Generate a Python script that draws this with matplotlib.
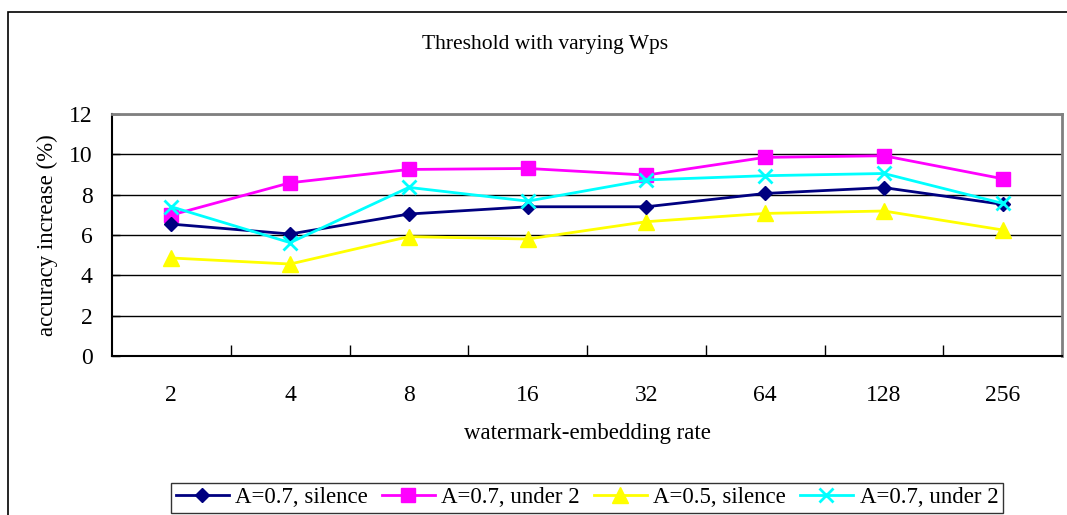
import matplotlib
matplotlib.use("Agg")
import matplotlib.pyplot as plt
from matplotlib.patches import Rectangle

categories = ["2", "4", "8", "16", "32", "64", "128", "256"]
s1_name = "A=0.7, silence"
s1 = [6.54, 6.05, 7.04, 7.40, 7.40, 8.06, 8.35, 7.52]
s2_name = "A=0.7, under 2"
s2 = [6.99, 8.59, 9.25, 9.30, 8.97, 9.85, 9.93, 8.79]
s3_name = "A=0.5, silence"
s3 = [4.86, 4.56, 5.92, 5.80, 6.66, 7.07, 7.19, 6.25]
s4_name = "A=0.7, under 2"
s4 = [7.40, 5.62, 8.36, 7.68, 8.73, 8.94, 9.05, 7.57]
yticks = [0, 2, 4, 6, 8, 10, 12]

plt.rcParams['font.family'] = ['Liberation Serif', 'DejaVu Serif']

W, H = 1067, 515
fig = plt.figure(figsize=(W/100, H/100), dpi=100)
fig.patch.set_facecolor('white')

# outer chart border
fig.patches.append(Rectangle((8/W, -0.1), 1.2, (H-12)/H + 0.1, transform=fig.transFigure,
                             fill=False, edgecolor='black', linewidth=1.2, zorder=0))

ax = fig.add_axes([112/W, (H-356)/H, (1062-112)/W, (356-114)/H])
x = list(range(len(categories)))

ax.plot(x, s1, color='#000080', marker='D', ms=7.5, lw=2, label=s1_name, zorder=5)
ax.plot(x, s2, color='#FF00FF', marker='s', ms=10.5, lw=2, label=s2_name, zorder=4)
ax.plot(x, s3, color='#FFFF00', marker='^', ms=11.5, lw=2, label=s3_name, zorder=3)
ax.plot(x, s4, color='#00FFFF', marker='x', ms=10.5, mew=2, lw=2, label=s4_name, zorder=6)

ax.set_xlim(-0.5, len(categories) - 0.5)
ax.set_ylim(0, 12)
ax.set_yticks(yticks)
ax.set_yticklabels([str(v) for v in yticks], fontsize=17)
ax.set_xticks(x)
ax.set_xticklabels(categories, fontsize=17)
ax.tick_params(axis='x', length=0, pad=21)
ax.tick_params(axis='y', direction='in', length=6, pad=14, width=1)
# minor ticks at category boundaries
ax.set_xticks([i + 0.5 for i in range(len(categories) - 1)], minor=True)
ax.tick_params(axis='x', which='minor', direction='in', length=8, width=1)

for v in yticks[1:]:
    ax.axhline(v, color='black', lw=1, zorder=1)

ax.spines['top'].set_color('#808080')
ax.spines['right'].set_color('#808080')
ax.spines['top'].set_linewidth(2)
ax.spines['right'].set_linewidth(2)
ax.spines['left'].set_linewidth(1.5)
ax.spines['bottom'].set_linewidth(1.5)

ax.set_ylabel("accuracy increase (%)", fontsize=16.5, labelpad=8)
ax.set_xlabel("watermark-embedding rate", fontsize=16.5, labelpad=12)

fig.text(545/W, 1 - 44/H, "Threshold with varying Wps", ha='center', va='center', fontsize=15.5)

leg = fig.legend(loc='lower center', bbox_to_anchor=(587/W, 2/H), ncol=4, fontsize=16.5,
                 frameon=True, fancybox=False, edgecolor='black', handlelength=2.3,
                 columnspacing=0.6, handletextpad=0.3, borderpad=0.2, borderaxespad=0)
leg.get_frame().set_linewidth(1)

fig.savefig("out.png", dpi=100)
